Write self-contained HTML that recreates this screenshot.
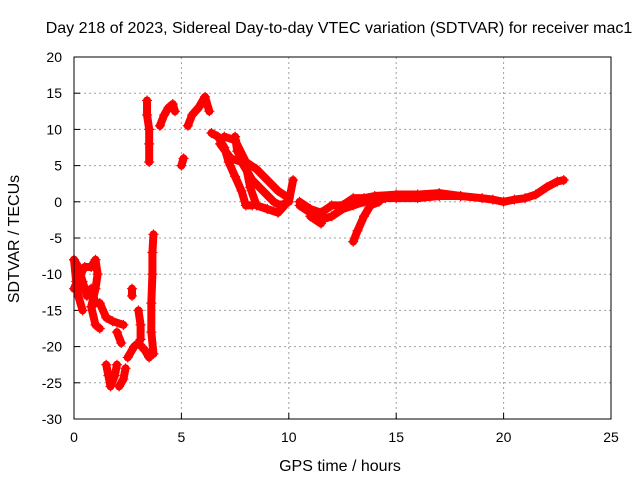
<!DOCTYPE html>
<html><head><meta charset="utf-8"><style>
body{margin:0;background:#fff}
svg text{font-family:"Liberation Sans",sans-serif;font-size:14px;fill:#000}
svg text.big{font-size:16px}
</style></head><body>
<svg width="640" height="480">
<text class="big" x="339" y="33" text-anchor="middle">Day 218 of 2023, Sidereal Day-to-day VTEC variation (SDTVAR) for receiver mac1</text>
<g id="grid"></g>
<g id="data"></g>
<rect x="74" y="57" width="537" height="362" fill="none" stroke="#000"/>
<text class="big" x="340" y="471" text-anchor="middle">GPS time / hours</text>
<text class="big" transform="translate(19,239) rotate(-90)" text-anchor="middle">SDTVAR / TECUs</text>
</svg>
<script>
const xTicks=[0,5,10,15,20,25];
const yTicks=[20,15,10,5,0,-5,-10,-15,-20,-25,-30];
const seriesA=[[0,-8],[0.2,-9],[0.4,-11],[0.6,-13],[0.8,-12],[1.0,-14],[1.2,-14],[1.5,-16],[1.8,-16.5],[2.3,-17]];
const seriesA2=[[0,-12],[0.3,-10],[0.5,-9],[0.8,-9],[1.0,-8],[1.1,-10],[1.0,-12],[0.8,-14.5],[1.0,-17],[1.2,-17.5]];
const seriesA3=[[0,-8],[0.1,-11],[0.2,-13],[0.4,-15]];
const seriesB=[[1.5,-22.5],[1.6,-24],[1.7,-25.5],[1.9,-24],[2.0,-22.5]];
const seriesB2=[[2.1,-25.5],[2.3,-24.5],[2.4,-23]];
const seriesC=[[2.0,-18],[2.2,-19.5]];
const seriesD=[[2.5,-21.5],[2.8,-20],[3.0,-19.5],[3.3,-20.5],[3.5,-21.5]];
const seriesD2=[[3.0,-15],[3.1,-17],[3.1,-19]];
const seriesE=[[3.7,-4.5],[3.65,-7],[3.65,-10],[3.6,-14],[3.6,-18],[3.7,-21]];
const seriesE2=[[2.7,-12],[2.7,-13]];
const seriesF=[[3.4,14],[3.4,12],[3.5,10],[3.5,8],[3.5,5.5]];
const seriesG=[[4.0,10.5],[4.2,12],[4.4,13],[4.6,13.5],[4.7,12.5]];
const seriesH=[[5.0,5],[5.1,6]];
const seriesI=[[5.3,10.5],[5.5,12],[5.8,13],[6.1,14.5],[6.3,12.5]];
const seriesJ=[[6.4,9.5],[6.7,9],[7.0,7.5],[7.2,5.5],[7.5,3.5],[7.8,1.5],[8.0,-0.5],[8.3,-0.5]];
const seriesJ2=[[7.0,9],[7.5,8.5],[8.0,5.5],[8.5,4.5],[9.0,3],[9.5,1.5],[10,0.5]];
const seriesJ3=[[6.8,8],[7.3,6],[7.8,5.5],[8.3,3],[8.8,1.5],[9.3,0],[9.6,-0.5],[10,0],[10.2,3]];
const seriesJ4=[[7.5,9],[7.6,7],[8.0,5],[8.2,2],[8.5,-0.5],[9.0,-1],[9.5,-1.5],[9.8,-0.5]];
const seriesK=[[10.5,-0.5],[11,-1.5],[11.5,-2.5],[12,-2],[12.5,-1],[13,-0.5],[13.5,0],[14,0],[14.5,0.5],[15,0.5],[16,0.5],[17,0.8],[18,0.8],[19,0.5],[19.5,0.3],[20,0],[20.5,0.3],[21,0.5],[21.5,1],[22,2],[22.5,2.8],[22.8,3]];
const seriesK2=[[10.5,0],[11,-1],[11.5,-1.5],[12,-0.5],[12.5,-0.5],[13,0.5],[13.5,0.5],[14,0.8],[15,1],[16,1],[17,1.2],[18,0.8]];
const seriesL=[[13,-5.5],[13.2,-4],[13.5,-2],[13.8,-0.5],[14.2,0]];
const seriesM=[[11,-2],[11.5,-3]];
const allSeries=[seriesA,seriesA2,seriesA3,seriesB,seriesB2,seriesC,seriesD,seriesD2,seriesE,seriesE2,seriesF,seriesG,seriesH,seriesI,seriesJ,seriesJ2,seriesJ3,seriesJ4,seriesK,seriesK2,seriesL,seriesM];
const NS="http://www.w3.org/2000/svg";
const X=v=>74+v*(537/25), Y=v=>57+(20-v)*(362/50);
const grid=document.getElementById('grid'), data=document.getElementById('data');
function mk(tag,attrs,parent){const e=document.createElementNS(NS,tag);for(const k in attrs)e.setAttribute(k,attrs[k]);parent.appendChild(e);return e;}
xTicks.forEach(t=>{
  if(t>0&&t<25){const l=mk('line',{x1:X(t),x2:X(t),y1:57,y2:419,stroke:'#a0a0a0','stroke-dasharray':'2,3'},grid);
  
  }
  const tk=mk('line',{x1:X(t),x2:X(t),y1:419,y2:413,stroke:'#000'},grid);
  
  
  const tx=mk('text',{x:X(t),y:442,'text-anchor':'middle'},grid);tx.textContent=t;
  
  
});
yTicks.forEach(t=>{
  if(t<20&&t>-30){const l=mk('line',{x1:74,x2:611,y1:Y(t),y2:Y(t),stroke:'#a0a0a0','stroke-dasharray':'2,3'},grid);
  
  }
  const tk=mk('line',{x1:74,x2:80,y1:Y(t),y2:Y(t),stroke:'#000'},grid);
  
  
  const tx=mk('text',{x:62,y:Y(t)+5,'text-anchor':'end'},grid);tx.textContent=t;
  
  
});
allSeries.forEach(s=>{
  const pl=mk('polyline',{points:s.map(p=>X(p[0])+','+Y(p[1])).join(' '),fill:'none',stroke:'#f00','stroke-width':8,'stroke-linejoin':'round','stroke-linecap':'round'},data);
  
  
  s.forEach(p=>{const x=X(p[0]),y=Y(p[1]);
    const m=mk('path',{d:`M${x-5},${y}H${x+5}M${x},${y-5}V${y+5}`,stroke:'#f00','stroke-width':1.2},data);
    
    
  });
});
</script>
</body></html>
